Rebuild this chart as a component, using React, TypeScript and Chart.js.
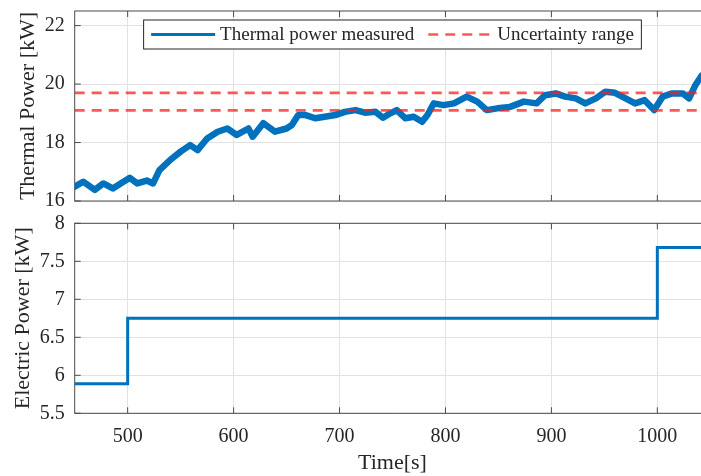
import React, { useEffect, useRef } from 'react';
import { Chart, registerables } from 'chart.js';

Chart.register(...registerables);

// ---------- data ----------
const thermalTime = [
  450, 458, 469, 477, 486, 496, 502, 509, 518, 524, 530, 540, 550, 559, 566, 575, 585, 594,
  603, 614, 618, 628, 639, 650, 655, 661, 668, 677, 686, 696, 705, 715, 724, 734, 741, 748,
  754, 762, 770, 778, 783, 789, 798, 808, 820, 830, 839, 849, 861, 874, 886, 894, 904, 913,
  923, 932, 942, 951, 960, 970, 979, 988, 997, 1005, 1014, 1024, 1030, 1036, 1042,
];
const thermalPower = [
  16.49, 16.66, 16.38, 16.6, 16.43, 16.66, 16.79, 16.6, 16.7, 16.6, 17.06, 17.4, 17.69, 17.91, 17.74, 18.14, 18.37, 18.48,
  18.26, 18.48, 18.2, 18.66, 18.37, 18.48, 18.6, 18.94, 18.94, 18.83, 18.88, 18.94, 19.05, 19.11, 19.02, 19.05, 18.85, 19.0,
  19.11, 18.83, 18.88, 18.71, 18.94, 19.34, 19.28, 19.34, 19.57, 19.4, 19.11, 19.17, 19.22, 19.4, 19.34, 19.62, 19.68, 19.57,
  19.51, 19.34, 19.51, 19.74, 19.7, 19.51, 19.34, 19.45, 19.11, 19.57, 19.68, 19.68, 19.51, 19.97, 20.3,
];
const electricTime = [450, 500, 500, 1000, 1000, 1050];
const electricPower = [5.89, 5.89, 6.75, 6.75, 7.68, 7.68];
const uncertaintyUpper = 19.7;
const uncertaintyLower = 19.1;

const timeRange = [450, 1050];
const timeTicks = [500, 600, 700, 800, 900, 1000];
const thermalRange = [16, 22.5];
const thermalTicks = [16, 18, 20, 22];
const electricRange = [5.5, 8];
const electricTicks = [5.5, 6, 6.5, 7, 7.5, 8];

const legendLabels = ['Thermal power measured', 'Uncertainty range'];

// ---------- styles ----------
const FONT = '"Liberation Serif", "Times New Roman", serif';
const TEXT = '#262626';
const AXIS = '#4a4a4a';
const GRID = '#e2e2e2';
const BLUE = '#0072BD';
const RED = 'rgba(255, 30, 30, 0.75)';

const Y_AXIS_W = 74.7;
const CANVAS_W = 712;
const PLOT_RIGHT = 710.3;

const zeroPad = (s: any) => {
  s.paddingTop = 0;
  s.paddingBottom = 0;
  s.paddingLeft = 0;
  s.paddingRight = 0;
};

const axesBox = {
  id: 'axesBox',
  beforeDatasetsDraw(chart: any) {
    const { ctx, chartArea, scales } = chart;
    const { left, right, top, bottom } = chartArea;
    ctx.save();
    ctx.strokeStyle = AXIS;
    ctx.lineWidth = 1;
    ctx.strokeRect(left, top, right - left, bottom - top);
    ctx.beginPath();
    const tl = 6;
    for (const t of scales.x.ticks) {
      const px = scales.x.getPixelForValue(t.value);
      ctx.moveTo(px, bottom);
      ctx.lineTo(px, bottom - tl);
      ctx.moveTo(px, top);
      ctx.lineTo(px, top + tl);
    }
    for (const t of scales.y.ticks) {
      const py = scales.y.getPixelForValue(t.value);
      ctx.moveTo(left, py);
      ctx.lineTo(left + tl, py);
      ctx.moveTo(right, py);
      ctx.lineTo(right - tl, py);
    }
    ctx.stroke();
    ctx.restore();
  },
};

const legendBox = {
  id: 'legendBox',
  afterDraw(chart: any) {
    const { ctx, chartArea } = chart;
    const items = [
      { label: legendLabels[0], color: BLUE, dash: [] as number[], width: 3.2 },
      { label: legendLabels[1], color: RED, dash: [10, 7], width: 2.6 },
    ];
    ctx.save();
    ctx.font = `19px ${FONT}`;
    const pad = 7.5;
    const sample = 64;
    const gap = 5;
    const itemGap = 14;
    const widths = items.map((it) => ctx.measureText(it.label).width);
    let total = pad * 2;
    items.forEach((_, i) => {
      total += sample + gap + widths[i];
      if (i > 0) total += itemGap;
    });
    const h = 29;
    const cx = (chartArea.left + chartArea.right) / 2;
    const x0 = cx - total / 2;
    const y0 = chartArea.top + 9;
    ctx.fillStyle = '#ffffff';
    ctx.fillRect(x0, y0, total, h);
    ctx.strokeStyle = TEXT;
    ctx.lineWidth = 1;
    ctx.strokeRect(x0, y0, total, h);
    const cy = y0 + h / 2;
    let x = x0 + pad;
    items.forEach((it, i) => {
      if (i > 0) x += itemGap;
      ctx.beginPath();
      ctx.setLineDash(it.dash);
      ctx.strokeStyle = it.color;
      ctx.lineWidth = it.width;
      ctx.moveTo(x, cy);
      ctx.lineTo(x + sample, cy);
      ctx.stroke();
      ctx.setLineDash([]);
      x += sample + gap;
      ctx.fillStyle = TEXT;
      ctx.textAlign = 'left';
      ctx.textBaseline = 'middle';
      ctx.fillText(it.label, x, cy + 1);
      x += widths[i];
    });
    ctx.restore();
  },
};

function xScale(showLabels: boolean, height: number) {
  return {
    type: 'linear',
    min: timeRange[0],
    max: timeRange[1],
    afterBuildTicks: (s: any) => {
      s.ticks = timeTicks.map((v) => ({ value: v }));
    },
    afterFit: (s: any) => {
      s.height = height;
      zeroPad(s);
    },
    grid: { color: GRID, lineWidth: 1, drawTicks: false },
    border: { display: false },
    ticks: {
      display: showLabels,
      padding: 11.4,
      color: TEXT,
      font: { family: FONT, size: 20 },
      maxRotation: 0,
      callback: (v: any) => String(v),
    },
    title: showLabels
      ? {
          display: true,
          text: 'Time[s]',
          color: TEXT,
          font: { family: FONT, size: 22 },
          padding: { top: 0, bottom: 0 },
        }
      : { display: false },
  };
}

function yScale(range: number[], ticks: number[], title: string, titlePad: number) {
  return {
    type: 'linear',
    min: range[0],
    max: range[1],
    afterBuildTicks: (s: any) => {
      s.ticks = ticks.map((v) => ({ value: v }));
    },
    afterFit: (s: any) => {
      s.width = Y_AXIS_W;
      zeroPad(s);
    },
    grid: { color: GRID, lineWidth: 1, drawTicks: false },
    border: { display: false },
    ticks: {
      padding: 10,
      color: TEXT,
      font: { family: FONT, size: 20 },
      callback: (v: any) => String(v),
    },
    title: {
      display: true,
      text: title,
      color: TEXT,
      font: { family: FONT, size: 22 },
      padding: { top: titlePad, bottom: 0 },
    },
  };
}

export default function App() {
  const topRef = useRef<HTMLCanvasElement>(null);
  const botRef = useRef<HTMLCanvasElement>(null);

  useEffect(() => {
    const TOP_H = 232;
    const BOT_H = 286;
    const top = new Chart(topRef.current as HTMLCanvasElement, {
      type: 'line',
      data: {
        datasets: [
          {
            label: legendLabels[1],
            data: timeRange.map((t) => ({ x: t, y: uncertaintyUpper })),
            borderColor: RED,
            borderDash: [10, 7],
            borderWidth: 2.6,
            pointRadius: 0,
            order: 0,
          },
          {
            label: legendLabels[1],
            data: timeRange.map((t) => ({ x: t, y: uncertaintyLower })),
            borderColor: RED,
            borderDash: [10, 7],
            borderWidth: 2.6,
            pointRadius: 0,
            order: 0,
          },
          {
            label: legendLabels[0],
            data: thermalTime.map((t, i) => ({ x: t, y: thermalPower[i] })),
            borderColor: BLUE,
            borderWidth: 6.5,
            borderJoinStyle: 'round',
            borderCapStyle: 'round',
            pointRadius: 0,
            tension: 0,
            order: 1,
          },
        ],
      },
      options: {
        responsive: false,
        animation: false,
        devicePixelRatio: 1,
        layout: { padding: { top: 11, right: CANVAS_W - PLOT_RIGHT, left: 0, bottom: 0 } },
        plugins: { legend: { display: false }, tooltip: { enabled: false } },
        scales: {
          x: xScale(false, TOP_H - 201) as any,
          y: yScale(thermalRange, thermalTicks, 'Thermal Power [kW]', 14.8) as any,
        },
      },
      plugins: [axesBox, legendBox],
    });

    const bottom = new Chart(botRef.current as HTMLCanvasElement, {
      type: 'line',
      data: {
        datasets: [
          {
            label: 'Electric Power',
            data: electricTime.map((t, i) => ({ x: t, y: electricPower[i] })),
            borderColor: BLUE,
            borderWidth: 3,
            pointRadius: 0,
            tension: 0,
          },
        ],
      },
      options: {
        responsive: false,
        animation: false,
        devicePixelRatio: 1,
        layout: { padding: { top: 223.3 - 190, right: CANVAS_W - PLOT_RIGHT, left: 0, bottom: 0 } },
        plugins: { legend: { display: false }, tooltip: { enabled: false } },
        scales: {
          x: xScale(true, BOT_H - (413.3 - 190)) as any,
          y: yScale(electricRange, electricTicks, 'Electric Power [kW]', 9.8) as any,
        },
      },
      plugins: [axesBox],
    });

    return () => {
      top.destroy();
      bottom.destroy();
    };
  }, []);

  return (
    <div
      style={{
        position: 'fixed',
        left: 0,
        top: 0,
        width: 701,
        height: 476,
        overflow: 'hidden',
        background: '#ffffff',
      }}
    >
      <canvas
        ref={topRef}
        width={CANVAS_W}
        height={232}
        style={{ position: 'absolute', left: 0, top: 0, width: CANVAS_W, height: 232 }}
      />
      <canvas
        ref={botRef}
        width={CANVAS_W}
        height={286}
        style={{ position: 'absolute', left: 0, top: 190, width: CANVAS_W, height: 286 }}
      />
    </div>
  );
}
